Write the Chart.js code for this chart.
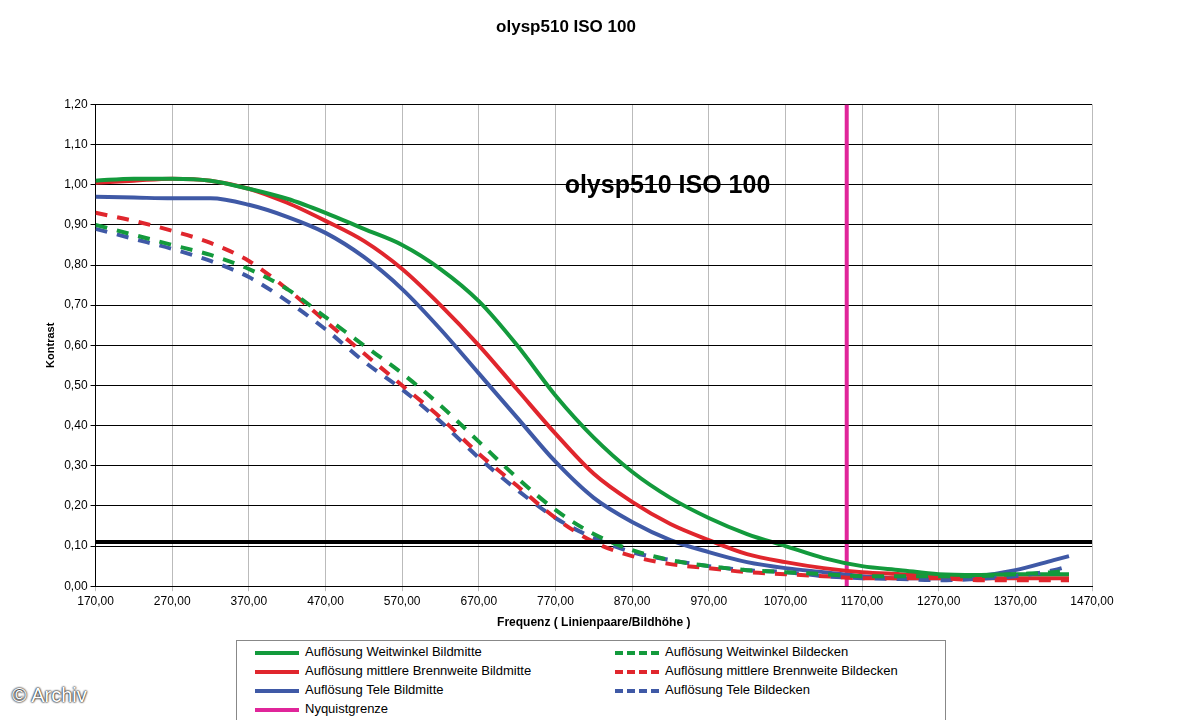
<!DOCTYPE html>
<html><head><meta charset="utf-8">
<script src="https://cdn.jsdelivr.net/npm/chart.js@4"></script>
<style>
body{margin:0;background:#fff;font-family:"Liberation Sans",Arial,sans-serif;}
#wrap{position:relative;width:1199px;height:634px;}
#legend{position:absolute;left:236px;top:640px;width:708px;height:90px;border:1px solid #888;font-size:13px;}
.it{position:absolute;height:19px;line-height:19px;}
.sw{position:absolute;top:9px;width:44px;height:4px;}
.sw.d{background:none;border-top:4px dashed;height:0;}
#copy{position:absolute;left:12px;top:684px;font-size:20px;color:#fff;text-shadow:0 0 2px #000,0 0 2px #000;}
</style></head><body>
<div id="wrap"><canvas id="c" width="1199" height="634"></canvas></div>
<div id="legend"></div>
<div id="copy">© Archiv</div>
<script>
var xs = [170,220,270,320,370,420,470,520,570,620,670,720,770,820,870,920,970,1020,1070,1120,1170,1220,1270,1320,1370,1420,1440];
var greenSolid = [1.01,1.015,1.015,1.01,0.99,0.965,0.93,0.89,0.85,0.79,0.71,0.60,0.475,0.37,0.285,0.22,0.17,0.13,0.10,0.07,0.05,0.04,0.03,0.028,0.03,0.03,0.03];
var redSolid = [1.005,1.01,1.015,1.01,0.99,0.955,0.91,0.86,0.79,0.70,0.60,0.49,0.38,0.28,0.21,0.155,0.115,0.08,0.06,0.045,0.035,0.03,0.025,0.02,0.02,0.02,0.02];
var blueSolid = [0.97,0.968,0.966,0.966,0.95,0.92,0.88,0.82,0.74,0.64,0.53,0.42,0.31,0.22,0.16,0.115,0.085,0.06,0.045,0.035,0.025,0.02,0.02,0.025,0.04,0.065,0.075];
var greenDash = [0.90,0.875,0.85,0.825,0.79,0.74,0.67,0.60,0.53,0.45,0.36,0.27,0.19,0.13,0.09,0.065,0.05,0.04,0.035,0.03,0.025,0.025,0.025,0.025,0.03,0.035,0.04];
var redDash = [0.93,0.91,0.885,0.855,0.81,0.74,0.66,0.58,0.50,0.42,0.33,0.25,0.17,0.11,0.075,0.055,0.045,0.035,0.03,0.025,0.02,0.02,0.02,0.015,0.015,0.015,0.015];
var blueDash = [0.89,0.865,0.84,0.81,0.77,0.71,0.64,0.56,0.49,0.41,0.32,0.24,0.17,0.12,0.085,0.065,0.05,0.04,0.035,0.025,0.02,0.018,0.015,0.018,0.025,0.04,0.05];
var nyquistX = 1150;
var limitY = 0.11;
var names = ['Auflösung Weitwinkel Bildmitte','Auflösung mittlere Brennweite Bildmitte','Auflösung Tele Bildmitte','Nyquistgrenze',
             'Auflösung Weitwinkel Bildecken','Auflösung mittlere Brennweite Bildecken','Auflösung Tele Bildecken'];
var GREEN='#139a3c', RED='#e0262d', BLUE='#3f59a6', PINK='#e0259a';

function pts(a){ return a.map(function(v,i){ return {x:xs[i], y:v}; }); }
function ds(label,data,color,dash){
  return {label:label,data:pts(data),borderColor:color,borderWidth:4,pointRadius:0,cubicInterpolationMode:'monotone',borderDash:dash?[12,10]:[]};
}

var inner = {id:'inner',afterDatasetsDraw:function(ch){
  var c=ch.ctx; c.save(); c.font='bold 25px "Liberation Sans",Arial'; c.fillStyle='#000';
  c.fillText('olysp510 ISO 100', ch.scales.x.getPixelForValue(782), ch.scales.y.getPixelForValue(0.98)); c.restore();
}};

new Chart(document.getElementById('c'), {
  type:'line',
  data:{datasets:[
    {label:'limit',data:[{x:170,y:limitY},{x:1470,y:limitY}],borderColor:'#000',borderWidth:4,pointRadius:0},
    ds(names[4],greenDash,GREEN,true),
    ds(names[5],redDash,RED,true),
    ds(names[6],blueDash,BLUE,true),
    ds(names[0],greenSolid,GREEN,false),
    ds(names[1],redSolid,RED,false),
    ds(names[2],blueSolid,BLUE,false),
    {label:names[3],data:[{x:nyquistX,y:0},{x:nyquistX,y:1.2}],borderColor:PINK,borderWidth:4,pointRadius:0}
  ]},
  options:{
    responsive:false, animation:false,
    layout:{padding:{left:40,right:107,top:0,bottom:0}},
    plugins:{legend:{display:false},tooltip:{enabled:false},
      title:{display:true,text:'olysp510 ISO 100',font:{size:17,weight:'bold'},color:'#000',padding:{top:17,bottom:67}}},
    scales:{
      x:{type:'linear',min:170,max:1470,
        ticks:{stepSize:100,color:'#000',font:{size:12},callback:function(v){return v.toFixed(2).replace('.',',');}},
        grid:{color:'#bbb',tickLength:5},border:{color:'#000'},
        title:{display:true,text:'Frequenz ( Linienpaare/Bildhöhe )',color:'#000',font:{size:12,weight:'bold'}}},
      y:{min:0,max:1.2,
        ticks:{stepSize:0.1,color:'#000',font:{size:12},callback:function(v){return v.toFixed(2).replace('.',',');}},
        grid:{color:'#000',tickLength:5},border:{color:'#000'},
        title:{display:true,text:'Kontrast',color:'#000',font:{size:11,weight:'bold'}}}
    }
  },
  plugins:[inner]
});

var leg=document.getElementById('legend');
var items=[[0,GREEN,0,0],[1,RED,0,1],[2,BLUE,0,2],[3,PINK,0,3],[4,GREEN,1,0],[5,RED,1,1],[6,BLUE,1,2]];
items.forEach(function(t){
  var d=document.createElement('div'); d.className='it';
  d.style.left=(t[2]?378:18)+'px'; d.style.top=(t[3]*19+1)+'px';
  var s=document.createElement('span'); s.className='sw'+(t[2]?' d':''); s.style.left='0px';
  if(t[2]) s.style.borderColor=t[1]; else s.style.background=t[1];
  var l=document.createElement('span'); l.style.marginLeft='50px'; l.textContent=names[t[0]];
  d.appendChild(s); d.appendChild(l); leg.appendChild(d);
});
</script>
</body></html>
